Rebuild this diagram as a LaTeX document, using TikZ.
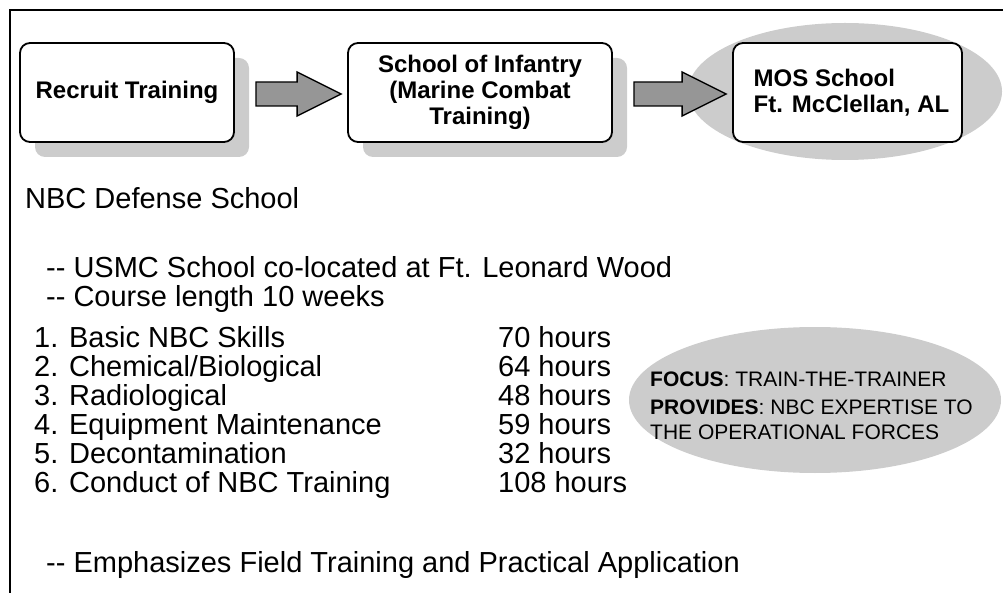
\documentclass[tikz,border=0pt]{standalone}
\usepackage{fontspec}
\setmainfont{Liberation Sans}
\usetikzlibrary{calc,shadows}
\definecolor{shade}{RGB}{204,204,204}
\definecolor{arrowgray}{RGB}{150,150,150}
\begin{document}
\begin{tikzpicture}[x=1pt,y=-1pt,
  stagebox/.style={draw=black, line width=1.8pt, rounded corners=10pt, fill=white,
    minimum height=99pt, inner sep=0pt, align=center,
    font=\fontsize{24}{26}\selectfont\bfseries},
  shadowed/.style={drop shadow={shadow xshift=15pt, shadow yshift=-15pt, fill=shade, opacity=1}},
  blockarrow/.style={draw=black, line width=1.3pt, fill=arrowgray, line join=miter},
  body/.style={anchor=base west, inner sep=0pt, font=\fontsize{29}{33}\selectfont},
  note/.style={anchor=base west, inner sep=0pt, font=\fontsize{21}{25}\selectfont},
  bubble/.style={fill=shade}
]
\useasboundingbox (0,0) rectangle (1003,593);
% frame
\draw[line width=2pt] (10,593) -- (10,10) -- (1003,10);

% background ellipse behind MOS school
\fill[bubble] (845,91.5) ellipse [x radius=157, y radius=68.5];

% stage boxes
\node[stagebox, shadowed, minimum width=214pt] (recruit) at (127,92.5) {Recruit Training};
\node[stagebox, shadowed, minimum width=264pt] (soi) at (480,92.5) {School of Infantry\\(Marine Combat\\Training)};
\node[stagebox, minimum width=229pt, align=left] (mos) at (847.5,92.5) {\hspace*{8pt}MOS School\\\hspace*{8pt}Ft. McClellan, AL};

% block arrows between stages
\foreach \a/\b in {recruit/soi, soi/mos}{
  \path ($(\a.east)+(21,1.5)$) coordinate (s) ($(\b.west)+(-6,1.5)$) coordinate (t);
  \draw[blockarrow] ($(s)+(0,-12)$) -- ($(t)+(-44,-12)$) -- ($(t)+(-44,-22)$) -- (t)
     -- ($(t)+(-44,22)$) -- ($(t)+(-44,12)$) -- ($(s)+(0,12)$) -- cycle;
}

% text block
\node[body] (title) at (25,209) {NBC Defense School};
\node[body] (l1) at (46,278) {-{}- USMC School co-located at Ft. Leonard Wood};
\node[body] (l2) at (46,307) {-{}- Course length 10 weeks};
\foreach \n/\t/\h/\y in {1/Basic NBC Skills/70/347, 2/Chemical\slash Biological/64/376,
   3/Radiological/48/405, 4/Equipment Maintenance/59/434, 5/Decontamination/32/463,
   6/Conduct of NBC Training/108/492}{
  \node[body] (item\n) at (34,\y) {\n. \t};
  \node[body] (hrs\n) at (498,\y) {\h\ hours};
}
\node[body] (l3) at (46,572) {-{}- Emphasizes Field Training and Practical Application};

% focus ellipse
\fill[bubble] (815,400) ellipse [x radius=186, y radius=73];
\node[note] (focus) at (650,386) {\textbf{FOCUS}: TRAIN-THE-TRAINER};
\node[note] (prov1) at (650,414) {\textbf{PROVIDES}: NBC EXPERTISE TO};
\node[note] (prov2) at (650,439) {THE OPERATIONAL FORCES};
\end{tikzpicture}
\end{document}
